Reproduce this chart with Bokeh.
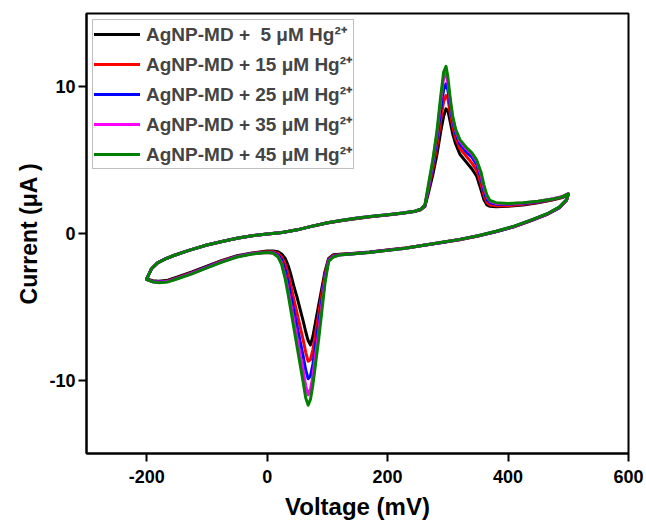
from bokeh.plotting import figure
from bokeh.models import FixedTicker, Range1d
from bokeh.embed import file_html
from bokeh.resources import INLINE

# ---------------- data ----------------
potential_forward = [-200, -192, -182, -170, -155, -130, -100, -75, -50, -25,
                     0, 25, 50, 75, 100, 125, 150, 175, 200, 225,
                     245, 255, 262, 268, 275, 282, 288, 293, 297, 300,
                     304, 308, 313, 320, 330, 340, 348, 355, 360, 365,
                     370, 380, 400, 425, 450, 475, 490, 500]
potential_reverse = [497, 485, 465, 440, 410, 380, 350, 320, 290, 260,
                     230, 200, 170, 140, 120,
                     110, 102, 96, 90, 85, 80, 76, 72, 68, 64,
                     60, 55, 50, 45, 40, 35, 30, 24, 18, 10, 0,
                     -25, -50, -75, -100, -125, -150, -165, -180, -190, -200]

# forward scan (anodic) currents, uA
fwd_5 = [-3.1, -2.4, -2.0, -1.75, -1.5, -1.15, -0.78, -0.55, -0.32, -0.15,
         -0.03, 0.07, 0.25, 0.5, 0.72, 0.88, 1.03, 1.15, 1.26, 1.38,
         1.5, 1.62, 1.85,
         2.8, 4.0, 5.4, 6.9, 8.0, 8.5, 8.4, 7.6, 6.8, 6.1, 5.4, 4.9, 4.4, 3.9, 3.0,
         2.3, 1.95, 1.85, 1.82, 1.85, 1.95, 2.1, 2.3, 2.45, 2.65]
fwd_15 = [-3.1, -2.4, -2.0, -1.75, -1.5, -1.15, -0.78, -0.55, -0.32, -0.15,
          -0.03, 0.07, 0.25, 0.5, 0.73, 0.89, 1.04, 1.16, 1.27, 1.39,
          1.51, 1.64, 1.9,
          3.0, 4.4, 6.0, 7.7, 9.0, 9.4, 9.2, 8.2, 7.3, 6.5, 5.8, 5.3, 4.8, 4.3, 3.4,
          2.6, 2.1, 1.95, 1.9, 1.9, 2.0, 2.13, 2.32, 2.47, 2.67]
fwd_25 = [-3.1, -2.4, -2.0, -1.75, -1.5, -1.15, -0.78, -0.55, -0.32, -0.15,
          -0.03, 0.07, 0.25, 0.5, 0.73, 0.9, 1.05, 1.17, 1.28, 1.4,
          1.52, 1.65, 1.92,
          3.1, 4.7, 6.5, 8.4, 9.8, 10.2, 9.8, 8.7, 7.7, 6.8, 6.1, 5.6, 5.2, 4.7, 3.8,
          2.9, 2.3, 2.1, 2.0, 2.0, 2.05, 2.17, 2.35, 2.5, 2.7]
fwd_35 = [-3.1, -2.4, -2.0, -1.75, -1.5, -1.15, -0.78, -0.55, -0.32, -0.15,
          -0.03, 0.07, 0.25, 0.5, 0.73, 0.9, 1.05, 1.17, 1.28, 1.4,
          1.52, 1.65, 1.94,
          3.2, 4.9, 6.8, 9.0, 10.6, 10.9, 10.3, 9.0, 7.9, 7.0, 6.3, 5.8, 5.4, 4.9, 4.0,
          3.1, 2.5, 2.2, 2.05, 2.03, 2.08, 2.2, 2.37, 2.52, 2.72]
fwd_45 = [-3.1, -2.4, -2.0, -1.75, -1.5, -1.15, -0.78, -0.55, -0.32, -0.15,
          -0.03, 0.07, 0.25, 0.5, 0.73, 0.9, 1.05, 1.17, 1.28, 1.4,
          1.52, 1.65, 1.95,
          3.4, 5.0, 7.0, 9.3, 11.0, 11.4, 10.7, 9.2, 8.0, 7.1, 6.4, 5.9, 5.5, 5.0, 4.2,
          3.3, 2.6, 2.25, 2.1, 2.05, 2.1, 2.2, 2.35, 2.5, 2.7]

# reverse scan (cathodic) currents, uA
rev_5 = [2.25, 1.75, 1.3, 0.9, 0.45, 0.12, -0.18, -0.42, -0.62, -0.8,
         -0.98, -1.12, -1.26, -1.36, -1.42,
         -1.45, -1.7, -2.6, -3.9, -5.0, -6.1, -7.0, -7.6, -7.3, -6.7,
         -6.0, -5.2, -4.4, -3.7, -2.9, -2.2, -1.7, -1.4, -1.25, -1.2, -1.2,
         -1.33, -1.52, -1.83, -2.22, -2.62, -2.98, -3.18, -3.25, -3.22, -3.1]
rev_15 = [2.27, 1.77, 1.32, 0.92, 0.47, 0.13, -0.17, -0.41, -0.61, -0.8,
          -0.99, -1.13, -1.27, -1.38, -1.44,
          -1.5, -1.75, -2.8, -4.3, -5.6, -6.9, -7.9, -8.6, -8.7, -8.1,
          -7.3, -6.4, -5.5, -4.6, -3.7, -2.8, -2.1, -1.6, -1.35, -1.25, -1.25,
          -1.35, -1.55, -1.87, -2.27, -2.67, -3.03, -3.23, -3.29, -3.26, -3.12]
rev_25 = [2.28, 1.78, 1.33, 0.93, 0.48, 0.14, -0.16, -0.4, -0.61, -0.8,
          -1.0, -1.14, -1.28, -1.39, -1.45,
          -1.55, -1.8, -3.0, -4.8, -6.3, -7.7, -8.9, -9.7, -9.9, -9.3,
          -8.4, -7.4, -6.4, -5.4, -4.4, -3.4, -2.5, -1.8, -1.45, -1.3, -1.27,
          -1.37, -1.57, -1.9, -2.3, -2.7, -3.06, -3.26, -3.31, -3.28, -3.13]
rev_35 = [2.29, 1.79, 1.34, 0.94, 0.49, 0.15, -0.15, -0.4, -0.6, -0.8,
          -1.0, -1.15, -1.29, -1.4, -1.46,
          -1.58, -1.85, -3.2, -5.2, -6.9, -8.4, -9.7, -10.6, -11.0, -10.4,
          -9.4, -8.3, -7.2, -6.1, -5.0, -3.9, -2.9, -2.0, -1.55, -1.33, -1.3,
          -1.38, -1.58, -1.92, -2.32, -2.72, -3.08, -3.28, -3.33, -3.29, -3.14]
rev_45 = [2.3, 1.8, 1.35, 0.95, 0.5, 0.15, -0.15, -0.4, -0.6, -0.8,
          -1.0, -1.15, -1.3, -1.4, -1.47,
          -1.6, -1.9, -3.4, -5.6, -7.4, -9.0, -10.3, -11.3, -11.7, -11.2,
          -10.2, -9.0, -7.8, -6.6, -5.4, -4.2, -3.1, -2.1, -1.6, -1.35, -1.3,
          -1.4, -1.6, -1.95, -2.35, -2.75, -3.1, -3.3, -3.35, -3.3, -3.15]

series_labels = ["AgNP-MD +\u00a0\u00a05 \u03bcM Hg\u00b2\u207a",
                 "AgNP-MD + 15 \u03bcM Hg\u00b2\u207a",
                 "AgNP-MD + 25 \u03bcM Hg\u00b2\u207a",
                 "AgNP-MD + 35 \u03bcM Hg\u00b2\u207a",
                 "AgNP-MD + 45 \u03bcM Hg\u00b2\u207a"]
series_colors = ["#000000", "#ff0000", "#0000ff", "#ff00ff", "#008000"]
series_fwd = [fwd_5, fwd_15, fwd_25, fwd_35, fwd_45]
series_rev = [rev_5, rev_15, rev_25, rev_35, rev_45]

x_ticks = [-200, 0, 200, 400, 600]
x_tick_labels = {-200: "-200", 0: "0", 200: "200", 400: "400", 600: "600"}
y_ticks = [-10, 0, 10]
y_tick_labels = {-10: "-10", 0: "0", 10: "10"}

FONT = "Liberation Sans"

p = figure(width=646, height=522,
           x_range=Range1d(-300, 600), y_range=Range1d(-15, 15),
           output_backend="svg", toolbar_location=None,
           min_border_left=86, min_border_right=18,
           min_border_top=13, min_border_bottom=68,
           background_fill_color="white", border_fill_color="white")

potential = potential_forward + potential_reverse
for lab, col, f, r in zip(series_labels, series_colors, series_fwd, series_rev):
    p.line(potential, f + r, line_color=col, line_width=3,
           line_join="round", line_cap="round", legend_label=lab)

p.xgrid.visible = False
p.ygrid.visible = False
p.outline_line_color = "black"
p.outline_line_width = 2
p.outline_line_alpha = 1

for ax in (p.xaxis[0], p.yaxis[0]):
    ax.axis_line_width = 2
    ax.axis_line_color = "black"
    ax.major_tick_line_width = 2
    ax.major_tick_in = 0
    ax.major_tick_out = 8
    ax.minor_tick_line_color = None
    ax.major_label_text_font = FONT
    ax.major_label_text_font_style = "bold"
    ax.major_label_text_font_size = "18px"
    ax.major_label_text_color = "black"
    ax.axis_label_text_font = FONT
    ax.axis_label_text_font_style = "bold"
    ax.axis_label_text_color = "black"

p.xaxis.axis_label_text_font_size = "24px"
p.yaxis.axis_label_text_font_size = "23px"
p.xaxis.ticker = FixedTicker(ticks=x_ticks)
p.yaxis.ticker = FixedTicker(ticks=y_ticks)
p.xaxis.major_label_overrides = x_tick_labels
p.yaxis.major_label_overrides = y_tick_labels
p.xaxis.axis_label = "Voltage (mV)"
p.yaxis.axis_label = "Current (\u03bcA )"
p.xaxis.major_label_standoff = 8
p.xaxis.axis_label_standoff = 7
p.yaxis.major_label_standoff = 3
p.yaxis.axis_label_standoff = 4

lg = p.legend[0]
lg.location = "top_left"
lg.margin = 6
lg.padding = 1
lg.spacing = 4
lg.glyph_height = 20
lg.glyph_width = 46
lg.label_height = 20
lg.label_standoff = 6
lg.label_text_font = FONT
lg.label_text_font_style = "bold"
lg.label_text_font_size = "19px"
lg.border_line_color = "#808080"
lg.border_line_width = 1
lg.background_fill_alpha = 1

open("out.html", "w").write(file_html(p, INLINE))
